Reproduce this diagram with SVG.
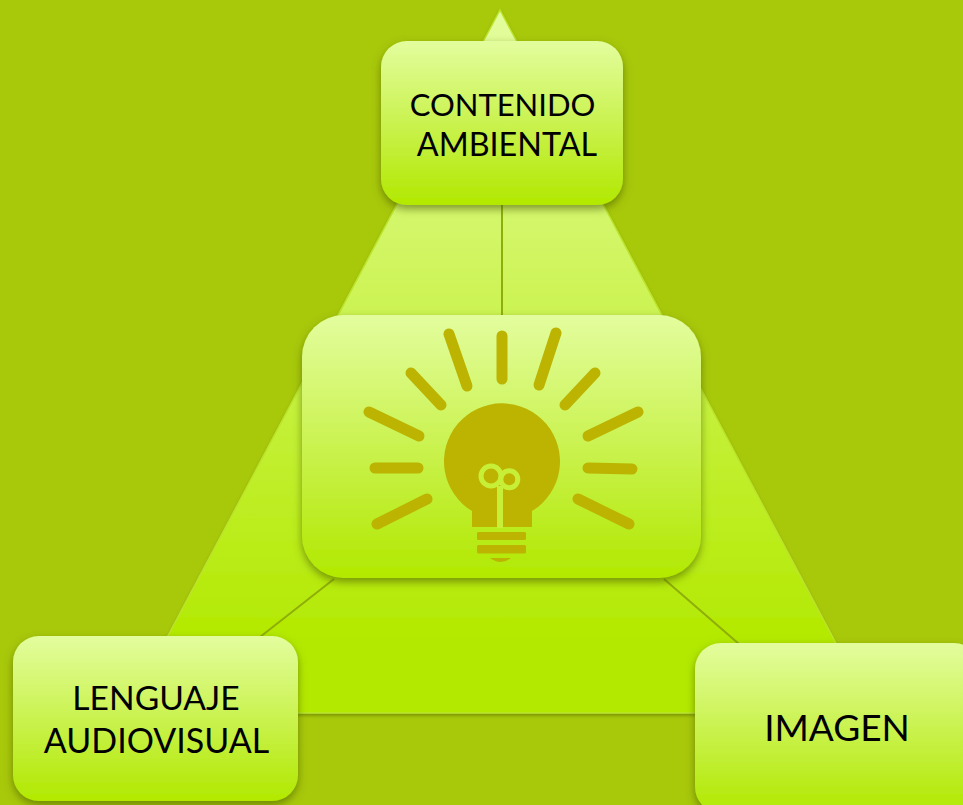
<svg xmlns="http://www.w3.org/2000/svg" width="963" height="805" viewBox="0 0 963 805">
  <style>
    .lbl{font-family:"Lato","Liberation Sans",sans-serif;fill:#000;text-anchor:middle}
    .conn{stroke:#8fae0a;stroke-width:2;fill:none}
    .ray{stroke:#bcb400;stroke-width:11;stroke-linecap:round;fill:none}
    .ico{fill:#bcb400}
  </style>
  <defs>
    <linearGradient id="gn" x1="0" y1="0" x2="0" y2="1">
      <stop offset="0" stop-color="#e3fd9e"/>
      <stop offset="0.9" stop-color="#b6ea10"/>
      <stop offset="1" stop-color="#b3e900"/>
    </linearGradient>
    <linearGradient id="gt" x1="0" y1="0" x2="0" y2="1">
      <stop offset="0" stop-color="#e3fd9e"/>
      <stop offset="0.9" stop-color="#b3e900"/>
      <stop offset="1" stop-color="#b3e900"/>
    </linearGradient>
    <filter id="sh" x="-15%" y="-15%" width="130%" height="130%">
      <feDropShadow dx="0" dy="4" stdDeviation="4" flood-color="#4a5a00" flood-opacity="0.6"/>
    </filter>
    <filter id="sh2" x="-5%" y="-5%" width="110%" height="110%">
      <feDropShadow dx="0" dy="2" stdDeviation="1.5" flood-color="#6a8000" flood-opacity="0.7"/>
    </filter>
  </defs>
  <rect width="963" height="805" fill="#a8c80a"/>
  <g id="triangle">
    <polygon points="500,10 873,713 127,713" fill="url(#gt)" stroke="#bbe52c" stroke-width="1.5" filter="url(#sh2)"/>
  </g>
  <g id="connectors">
    <line class="conn" x1="502" y1="205" x2="502" y2="316"/>
    <line class="conn" x1="334" y1="579" x2="260" y2="637"/>
    <line class="conn" x1="664" y1="579" x2="739" y2="644"/>
  </g>
  <g id="node-contenido">
    <rect x="381" y="41" width="242" height="164" rx="26" fill="url(#gn)" filter="url(#sh)"/>
    <text class="lbl" x="502.500" y="116" font-size="31">CONTENIDO</text>
    <text class="lbl" x="507" y="156" font-size="32.300">AMBIENTAL</text>
  </g>
  <g id="node-centro">
    <rect x="302" y="315" width="399" height="263" rx="42" fill="url(#gn)" filter="url(#sh)"/>
    <g id="bombilla">
      <g class="ray">
        <line x1="449" y1="334" x2="467" y2="386"/>
        <line x1="502" y1="336" x2="502" y2="379"/>
        <line x1="556" y1="333" x2="539" y2="385"/>
        <line x1="595" y1="373" x2="565" y2="405"/>
        <line x1="638" y1="412" x2="588" y2="436"/>
        <line x1="632" y1="469" x2="588" y2="468"/>
        <line x1="629" y1="524" x2="578" y2="499"/>
        <line x1="427" y1="499" x2="377" y2="524"/>
        <line x1="418" y1="468" x2="375" y2="468"/>
        <line x1="419" y1="436" x2="369" y2="412"/>
        <line x1="441" y1="405" x2="411" y2="373"/>
      </g>
      <path class="ico" d="M472 527V511A58 58 0 1 1 532 511V527Z"/>
      <rect class="ico" x="477" y="532" width="49" height="8" rx="1.5"/>
      <rect class="ico" x="477" y="545" width="49" height="8.500" rx="1.5"/>
      <path class="ico" d="M490 558H511Q501 566 490 558Z"/>
      <g fill="none" stroke="#c8ef38" stroke-width="5">
        <circle cx="491" cy="476" r="10"/>
        <circle cx="509.300" cy="479.300" r="8.500"/>
        <path d="M500 486V528" stroke-width="6"/>
      </g>
    </g>
  </g>
  <g id="node-lenguaje">
    <rect x="13" y="636" width="285" height="165" rx="26" fill="url(#gn)" filter="url(#sh)"/>
    <text class="lbl" x="156" y="710" font-size="33.600">LENGUAJE</text>
    <text class="lbl" x="156.500" y="753" font-size="34">AUDIOVISUAL</text>
  </g>
  <g id="node-imagen">
    <rect x="695" y="643" width="285" height="170" rx="26" fill="url(#gn)" filter="url(#sh)"/>
    <text class="lbl" x="837" y="741" font-size="37">IMAGEN</text>
  </g>
</svg>
